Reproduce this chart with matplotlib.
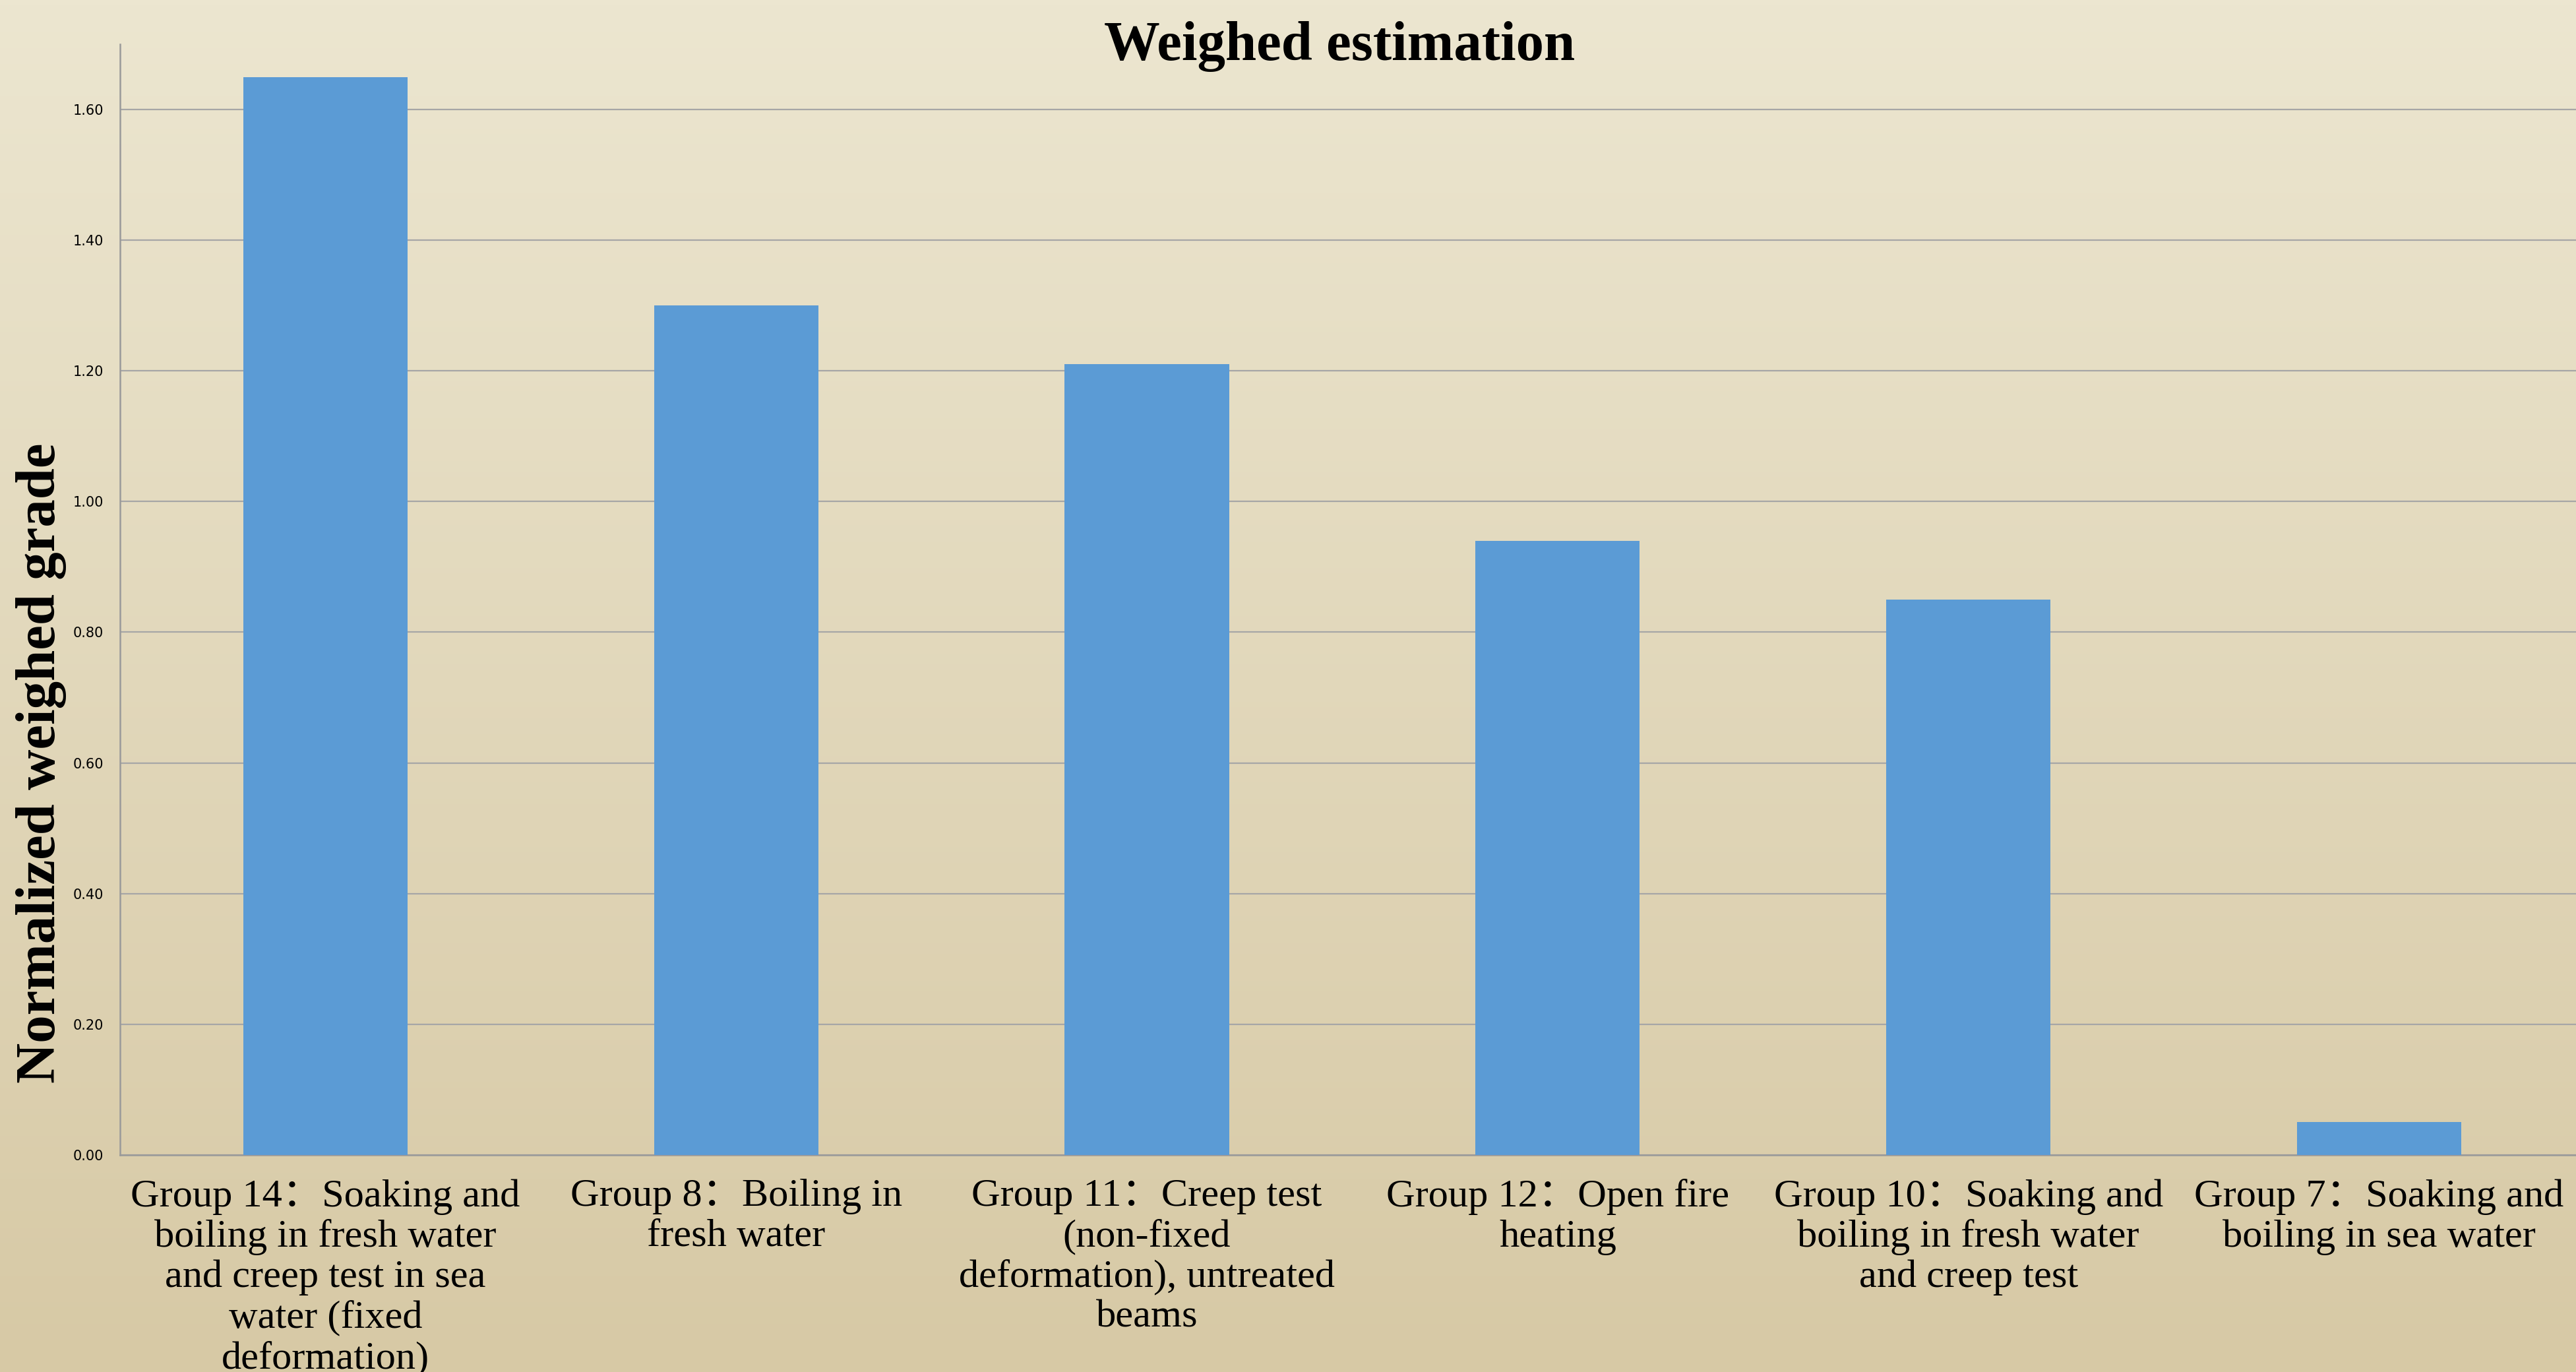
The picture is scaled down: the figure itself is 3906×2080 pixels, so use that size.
import numpy as np
import matplotlib
matplotlib.use("Agg")
import matplotlib.pyplot as plt
from matplotlib.ticker import FormatStrFormatter

# data
groups = [
    "Group 14：Soaking and\nboiling in fresh water\nand creep test in sea\nwater (fixed\ndeformation)",
    "Group 8：Boiling in\nfresh water",
    "Group 11：Creep test\n(non-fixed\ndeformation), untreated\nbeams",
    "Group 12：Open fire\nheating",
    "Group 10：Soaking and\nboiling in fresh water\nand creep test",
    "Group 7：Soaking and\nboiling in sea water",
]
grades = [1.65, 1.30, 1.21, 0.94, 0.85, 0.05]
yticks = [0.0, 0.2, 0.4, 0.6, 0.8, 1.0, 1.2, 1.4, 1.6]

serif = ["Liberation Serif", "Noto Sans CJK SC", "DejaVu Serif"]

fig = plt.figure(figsize=(39.06, 20.80), dpi=100)

# cream-to-tan gradient background
bg = fig.add_axes([0, 0, 1, 1])
top_c = np.array([236, 230, 208]) / 255.0
bot_c = np.array([215, 201, 165]) / 255.0
t = np.linspace(0, 1, 256)[:, None]
grad = top_c * (1 - t) + bot_c * t
bg.imshow(grad[:, None, :], aspect="auto", extent=[0, 1, 0, 1])
bg.axis("off")

ax = fig.add_axes([0.0466, 0.1582, 0.9567, 0.8096])
ax.set_facecolor("none")

x = np.arange(len(groups))
ax.bar(x, grades, width=0.4, color="#5B9BD5", zorder=3)

ax.set_xlim(-0.5, len(groups) - 0.5)
ax.set_ylim(0, 1.70)
ax.set_yticks(yticks)
ax.yaxis.set_major_formatter(FormatStrFormatter("%.2f"))
ax.grid(axis="y", color="#A6A6A6", linewidth=1.6, zorder=0)

for s in ["top", "right"]:
    ax.spines[s].set_visible(False)
ax.spines["left"].set_color("#9A9A9A")
ax.spines["bottom"].set_color("#9A9A9A")
ax.spines["left"].set_linewidth(1.8)
ax.spines["bottom"].set_linewidth(1.8)

ax.tick_params(axis="both", length=0)
ax.tick_params(axis="y", labelsize=15, pad=18)
ax.set_xticks(x)
ax.set_xticklabels(groups, family=serif, fontsize=43.5, linespacing=1.16, va="top")
ax.tick_params(axis="x", pad=26)

fig.text(0.52, 0.966, "Weighed estimation", family=serif, fontsize=61,
         fontweight="bold", ha="center", va="center")
fig.text(0.016, 0.444, "Normalized weighed grade", family=serif, fontsize=61,
         fontweight="bold", rotation=90, ha="center", va="center")

fig.savefig("out.png", dpi=100)
